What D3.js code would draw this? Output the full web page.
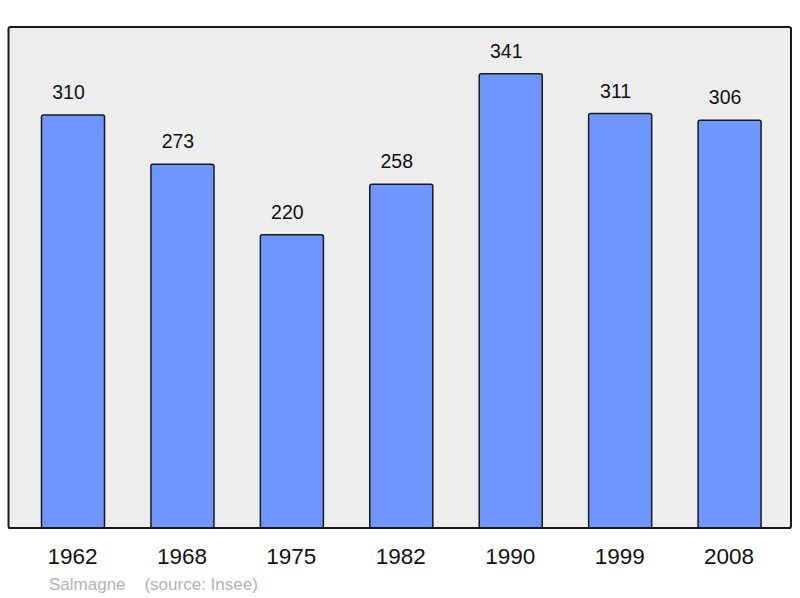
<!DOCTYPE html>
<html>
<head>
<meta charset="utf-8">
<script src="https://cdn.jsdelivr.net/npm/d3@7"></script>
<style>
  body { margin: 0; background: #fff; }
  text { font-family: "Liberation Sans", Arial, sans-serif; }
</style>
</head>
<body>
<svg width="800" height="598"></svg>
<script>
var years = ["1962", "1968", "1975", "1982", "1990", "1999", "2008"];
var population = [310, 273, 220, 258, 341, 311, 306];
var commune = "Salmagne";
var source = "(source: Insee)";

var svg = d3.select("svg");

var frame = {left: 8.5, top: 27, right: 791, bottom: 528};

// Set the scales
var x = d3.scaleBand()
    .domain(years)
    .range([18.3, 784.3])
    .paddingInner(0.424)
    .paddingOuter(0.212);
var y = d3.scaleLinear()
    .domain([0, 376])
    .range([frame.bottom, frame.top]);

svg.append("rect") // BACKGROUND
    .attr("x", frame.left)
    .attr("y", frame.top)
    .attr("width", frame.right - frame.left)
    .attr("height", frame.bottom - frame.top)
    .attr("rx", 2)
    .attr("fill", "#ededed")
    .attr("stroke", "#1a1a1a")
    .attr("stroke-width", 2);

svg.selectAll("rect.bar")
    .data(population)
    .enter()
    .append("rect")
    .attr("class", "bar")
    .attr("x", function (d, i) { return x(years[i]); })
    .attr("y", function (d) { return y(d); })
    .attr("width", x.bandwidth())
    .attr("height", function (d) { return y(0) - y(d); })
    .attr("rx", 2)
    .attr("fill", "#6f96ff")
    .attr("stroke", "#1a1a1a")
    .attr("stroke-width", 1.5);

svg.selectAll("text.value")
    .data(population)
    .enter()
    .append("text")
    .attr("class", "value")
    .attr("x", function (d, i) { return x(years[i]) + x.bandwidth() / 2 - 4.5; })
    .attr("y", function (d) { return y(d) - 16; })
    .attr("text-anchor", "middle")
    .attr("font-size", 19.5)
    .attr("fill", "#111")
    .text(function (d) { return d; });

// redraw frame border over bar bottoms
svg.append("line")
    .attr("x1", frame.left)
    .attr("x2", frame.right)
    .attr("y1", frame.bottom)
    .attr("y2", frame.bottom)
    .attr("stroke", "#1a1a1a")
    .attr("stroke-width", 2);

svg.selectAll("text.year")
    .data(years)
    .enter()
    .append("text")
    .attr("class", "year")
    .attr("x", function (d) { return x(d) + x.bandwidth() / 2 - 0.5; })
    .attr("y", 564)
    .attr("text-anchor", "middle")
    .attr("font-size", 22.5)
    .attr("fill", "#111")
    .text(function (d) { return d; });

svg.append("text")
    .attr("x", 49)
    .attr("y", 590)
    .attr("font-size", 17)
    .attr("fill", "#b3b3b3")
    .attr("xml:space", "preserve")
    .text(commune + "    " + source);
</script>
</body>
</html>
